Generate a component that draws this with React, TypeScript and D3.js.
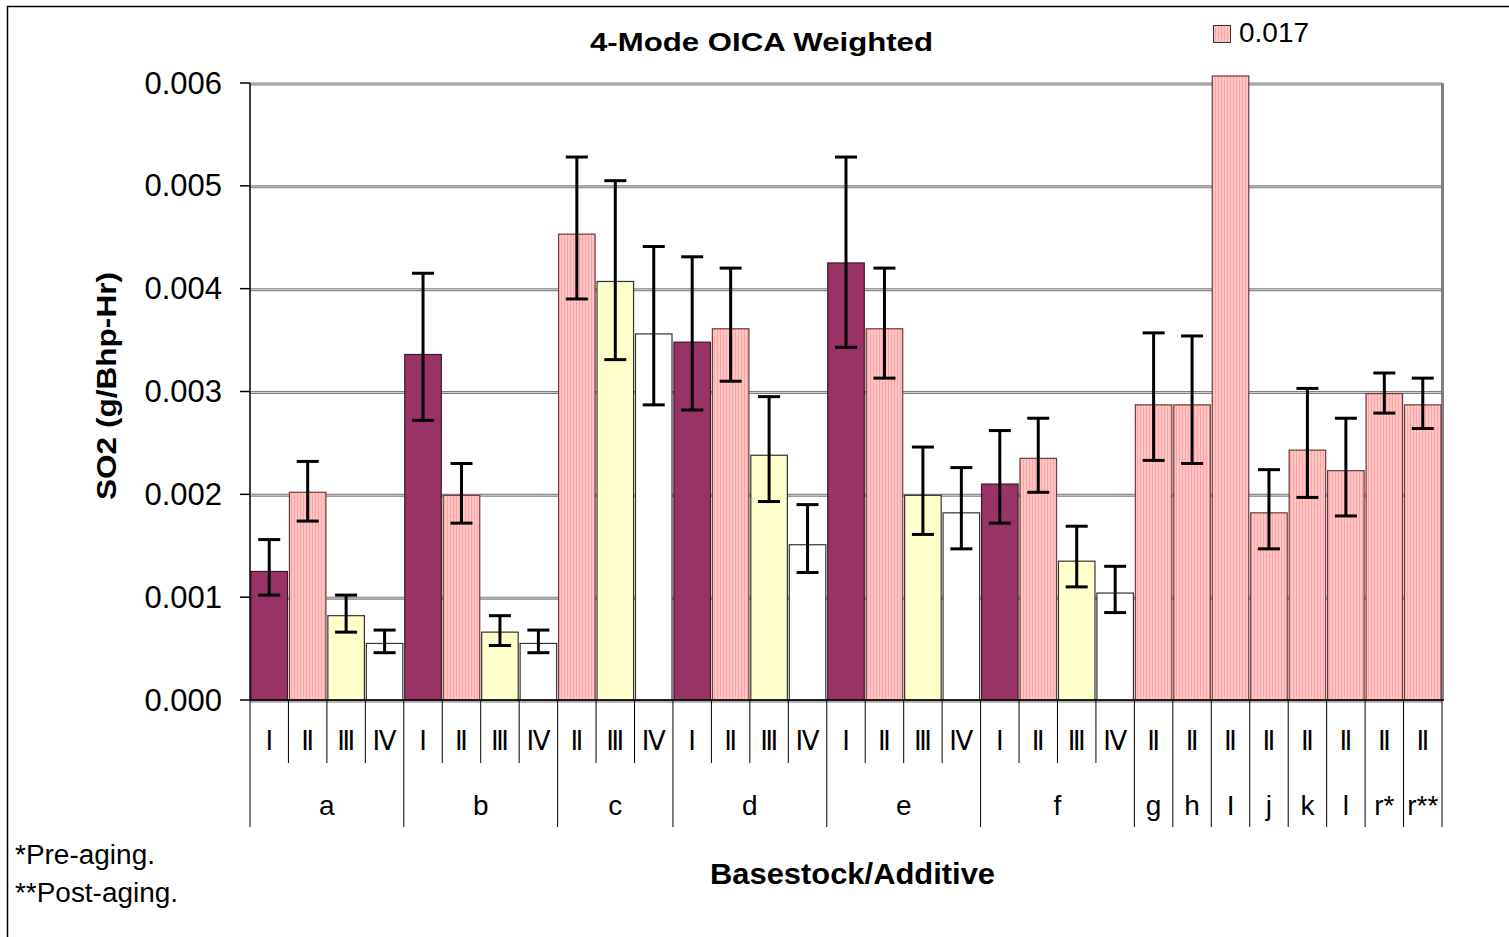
import React from "react";
import * as d3 from "d3";

const groupNames = ["a", "b", "c", "d", "e", "f", "g", "h", "I", "j", "k", "l", "r*", "r**"];
const groupSubs = [
  ["Ⅰ", "Ⅱ", "Ⅲ", "Ⅳ"],
  ["Ⅰ", "Ⅱ", "Ⅲ", "Ⅳ"],
  ["Ⅱ", "Ⅲ", "Ⅳ"],
  ["Ⅰ", "Ⅱ", "Ⅲ", "Ⅳ"],
  ["Ⅰ", "Ⅱ", "Ⅲ", "Ⅳ"],
  ["Ⅰ", "Ⅱ", "Ⅲ", "Ⅳ"],
  ["Ⅱ"], ["Ⅱ"], ["Ⅱ"], ["Ⅱ"], ["Ⅱ"], ["Ⅱ"], ["Ⅱ"], ["Ⅱ"],
];
const values = [
  0.00125, 0.00202, 0.00082, 0.00055,
  0.00336, 0.00199, 0.00066, 0.00055,
  0.00453, 0.00407, 0.00356,
  0.00348, 0.00361, 0.00238, 0.00151,
  0.00425, 0.00361, 0.00199, 0.00182,
  0.0021, 0.00235, 0.00135, 0.00104,
  0.00287, 0.00287, 0.017, 0.00182, 0.00243, 0.00223, 0.00298, 0.00287,
];
const errUpper = [
  0.00156, 0.00232, 0.00102, 0.00068,
  0.00415, 0.0023, 0.00082, 0.00068,
  0.00528, 0.00505, 0.00441,
  0.00431, 0.0042, 0.00295, 0.0019,
  0.00528, 0.0042, 0.00246, 0.00226,
  0.00262, 0.00274, 0.00169, 0.0013,
  0.00357, 0.00354, null, 0.00224, 0.00303, 0.00274, 0.00318, 0.00313,
];
const errLower = [
  0.00102, 0.00174, 0.00066, 0.00046,
  0.00272, 0.00172, 0.00053, 0.00046,
  0.0039, 0.00331, 0.00287,
  0.00282, 0.0031, 0.00193, 0.00124,
  0.00343, 0.00313, 0.00161, 0.00147,
  0.00172, 0.00202, 0.0011, 0.00085,
  0.00233, 0.0023, null, 0.00147, 0.00197, 0.00179, 0.00279, 0.00264,
];
const yTicks = [0, 0.001, 0.002, 0.003, 0.004, 0.005, 0.006];
const legendLabel = "0.017";

const W = 1509;
const H = 937;
const plot = { left: 250, right: 1442, top: 83, bottom: 700 };

const FILL: Record<string, string> = {
  "Ⅰ": "#993366",
  "Ⅱ": "url(#pinkStripe)",
  "Ⅲ": "#FFFFCC",
  "Ⅳ": "#FFFFFF",
};
const STROKE: Record<string, string> = {
  "Ⅰ": "#3a1a2a",
  "Ⅱ": "#6b3b3b",
  "Ⅲ": "#333333",
  "Ⅳ": "#333333",
};

export default function App() {
  const items: { sub: string; group: number; idx: number }[] = [];
  groupSubs.forEach((subs, g) => subs.forEach((s) => items.push({ sub: s, group: g, idx: items.length })));

  const x = d3
    .scaleBand<number>()
    .domain(items.map((d) => d.idx))
    .range([plot.left, plot.right])
    .paddingInner(0.05)
    .paddingOuter(0.025);
  const slotW = (plot.right - plot.left) / items.length;
  const slotLeft = (i: number) => plot.left + i * slotW;
  const y = d3.scaleLinear().domain([0, 0.006]).range([plot.bottom, plot.top]);
  const clipTop = y(0.006) - 7;

  const groupStart: number[] = [];
  const groupEnd: number[] = [];
  items.forEach((d) => {
    if (groupStart[d.group] === undefined) groupStart[d.group] = d.idx;
    groupEnd[d.group] = d.idx + 1;
  });

  const font = "'Liberation Sans', Arial, sans-serif";
  const romanFont = "'DejaVu Sans', 'Liberation Sans', sans-serif";

  return (
    <div style={{ position: "absolute", left: 0, top: 0 }}>
      <svg width={W} height={H} style={{ display: "block", background: "#fff" }}>
        <defs>
          <pattern id="pinkStripe" patternUnits="userSpaceOnUse" width={3} height={4}>
            <rect width={3} height={4} fill="#FFC4C4" />
            <rect width={1} height={4} fill="#FFA3A3" />
          </pattern>
        </defs>
        <rect x={7.5} y={6.5} width={W + 10} height={H + 10} fill="#fff" stroke="#000" strokeWidth={1.5} />

        {yTicks.map((t) => (
          <g key={t}>
            <line x1={plot.left} x2={plot.right} y1={y(t) + 1} y2={y(t) + 1} stroke="#808080" strokeWidth={3} />
            <line x1={plot.left} x2={plot.right} y1={y(t) + 1} y2={y(t) + 1} stroke="#cfcfcf" strokeWidth={1} />
          </g>
        ))}
        <line x1={plot.right + 0.5} x2={plot.right + 0.5} y1={plot.top} y2={plot.bottom} stroke="#808080" strokeWidth={3} />

        {items.map((d, i) => {
          const v = values[i];
          const top = Math.max(y(v), clipTop);
          return (
            <rect
              key={i}
              x={x(d.idx)!}
              y={top}
              width={x.bandwidth()}
              height={plot.bottom - top}
              fill={FILL[d.sub]}
              stroke={STROKE[d.sub]}
              strokeWidth={1.2}
            />
          );
        })}

        {items.map((d, i) => {
          const hi = errUpper[i];
          const lo = errLower[i];
          if (hi == null || lo == null) return null;
          const cx = x(d.idx)! + x.bandwidth() / 2;
          const cap = 11;
          return (
            <g key={"e" + i} stroke="#000" strokeWidth={3}>
              <line x1={cx} x2={cx} y1={y(hi)} y2={y(lo)} />
              <line x1={cx - cap} x2={cx + cap} y1={y(hi)} y2={y(hi)} />
              <line x1={cx - cap} x2={cx + cap} y1={y(lo)} y2={y(lo)} />
            </g>
          );
        })}

        <line x1={plot.left} x2={plot.left} y1={plot.top} y2={plot.bottom} stroke="#000" strokeWidth={1.5} />
        <line x1={plot.left} x2={plot.right + 2} y1={plot.bottom} y2={plot.bottom} stroke="#000" strokeWidth={1.5} />
        {yTicks.map((t) => (
          <g key={"t" + t}>
            <line x1={plot.left - 10} x2={plot.left} y1={y(t)} y2={y(t)} stroke="#000" strokeWidth={1.5} />
            <text
              x={222}
              y={y(t)}
              textAnchor="end"
              dominantBaseline="central"
              fontFamily={font}
              fontSize={31}
              fill="#000"
            >
              {d3.format(".3f")(t)}
            </text>
          </g>
        ))}

        {d3.range(items.length + 1).map((i) => {
          const isGroup = groupStart.includes(i) || i === items.length;
          const xx = slotLeft(i);
          return (
            <line key={"s" + i} x1={xx} x2={xx} y1={plot.bottom} y2={isGroup ? 827 : 763} stroke="#000" strokeWidth={1} />
          );
        })}
        {items.map((d, i) => (
          <text
            key={"sl" + i}
            x={slotLeft(i) + slotW / 2}
            y={741}
            textAnchor="middle"
            dominantBaseline="central"
            fontFamily={romanFont}
            fontSize={26}
            fill="#000"
          >
            {d.sub}
          </text>
        ))}
        {groupNames.map((g, gi) => (
          <text
            key={"g" + gi}
            x={(slotLeft(groupStart[gi]) + slotLeft(groupEnd[gi])) / 2}
            y={805}
            textAnchor="middle"
            dominantBaseline="central"
            fontFamily={font}
            fontSize={28}
            fill="#000"
          >
            {g}
          </text>
        ))}

        <text
          x={590}
          y={51}
          textLength={343}
          lengthAdjust="spacingAndGlyphs"
          fontFamily={font}
          fontWeight="bold"
          fontSize={26}
        >
          4-Mode OICA Weighted
        </text>
        <text
          transform={`translate(116,500) rotate(-90)`}
          textLength={228}
          lengthAdjust="spacingAndGlyphs"
          fontFamily={font}
          fontWeight="bold"
          fontSize={27}
        >
          SO2 (g/Bhp-Hr)
        </text>
        <text
          x={710}
          y={884}
          textLength={285}
          lengthAdjust="spacingAndGlyphs"
          fontFamily={font}
          fontWeight="bold"
          fontSize={29}
        >
          Basestock/Additive
        </text>
        <text x={15} y={864} textLength={140} lengthAdjust="spacingAndGlyphs" fontFamily={font} fontSize={27}>
          *Pre-aging.
        </text>
        <text x={15} y={902} textLength={163} lengthAdjust="spacingAndGlyphs" fontFamily={font} fontSize={27}>
          **Post-aging.
        </text>

        <rect x={1213.5} y={25.5} width={17} height={17} fill="url(#pinkStripe)" stroke="#333" strokeWidth={1} />
        <text x={1239} y={42} fontFamily={font} fontSize={28}>{legendLabel}</text>
      </svg>
    </div>
  );
}
